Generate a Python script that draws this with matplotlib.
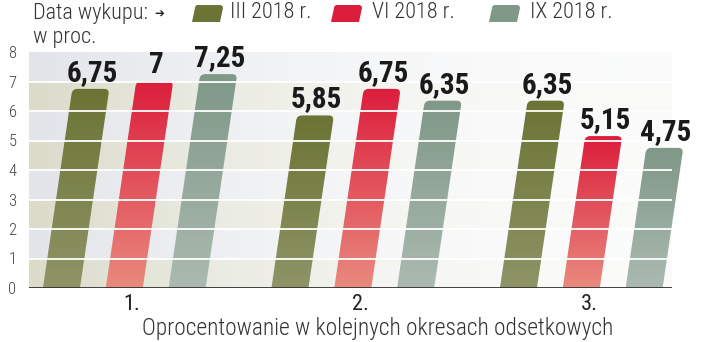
import numpy as np
import matplotlib
matplotlib.use("Agg")
import matplotlib.pyplot as plt
from matplotlib.path import Path
from matplotlib.patches import PathPatch
from matplotlib.transforms import Affine2D
from matplotlib import font_manager as fm

# ---- data ----
groups = ["1.", "2.", "3."]
series = ["III 2018 r.", "VI 2018 r.", "IX 2018 r."]
values_iii = [6.75, 5.85, 6.35]
values_vi = [7.00, 6.75, 5.15]
values_ix = [7.25, 6.35, 4.75]
value_labels_iii = ["6,75", "5,85", "6,35"]
value_labels_vi = ["7", "6,75", "5,15"]
value_labels_ix = ["7,25", "6,35", "4,75"]
yticks = [0, 1, 2, 3, 4, 5, 6, 7, 8]
title_line1 = "Data wykupu:"
title_line2 = "w proc."
xlabel = "Oprocentowanie w kolejnych okresach odsetkowych"

# ---- style ----
top_colors = ["#6b7434", "#dc1e3c", "#7f9888"]
bot_colors = ["#8e9466", "#e98a7e", "#abbab0"]

names = {f.name for f in fm.fontManager.ttflist}
COND = "DejaVu Sans"
for cand in ["Roboto Condensed", "Barlow Condensed", "Barlow Semi Condensed",
             "Asap Condensed", "Archivo Narrow", "Liberation Sans Narrow"]:
    if cand in names:
        COND = cand
        break
plt.rcParams["font.family"] = [COND, "DejaVu Sans"]

W, H = 720, 342
fig = plt.figure(figsize=(W / 100, H / 100), dpi=100)
ax = fig.add_axes([29 / W, 1 - 288 / H, (672 - 29) / W, (288 - 52) / H])
xlim = (-0.451, 2.363)
ax.set_xlim(*xlim)
ax.set_ylim(0, 8)

# background bands with horizontal fade
ncol = 256
t = np.linspace(0, 1, ncol)
f = (0.95 * (1 - (1 - t) ** 2))[None, :, None]
beige = np.array([0.855, 0.859, 0.790])
grey = np.array([0.885, 0.895, 0.915])
white = np.array([0.99, 0.99, 0.99])
rows = []
for k in range(8):
    c = beige if k % 2 == 0 else grey
    rows.append(c[None, None, :] * (1 - f) + white[None, None, :] * f)
bg = np.concatenate(rows, axis=0)
ax.imshow(bg, extent=(xlim[0], xlim[1], 0, 8), origin="lower", aspect="auto",
          interpolation="nearest", zorder=0)

px_x = (xlim[1] - xlim[0]) / (672 - 29)   # data units per pixel (x)
px_y = 8 / (288 - 52)                     # data units per pixel (y)
slant = 4.35 * px_x                       # x shift per unit of value
width = 37 * px_x
offsets = [-0.39, -0.115, 0.16]
rad = 5.0


def bar_path(x0, v):
    rx, ry = rad * px_x, rad * px_y
    verts = [
        (x0, 0),
        (x0 + slant * (v - ry), v - ry),
        (x0 + slant * v, v),
        (x0 + slant * v + rx, v),
        (x0 + width + slant * v - rx, v),
        (x0 + width + slant * v, v),
        (x0 + width + slant * (v - ry), v - ry),
        (x0 + width, 0),
        (x0, 0),
    ]
    codes = [Path.MOVETO, Path.LINETO, Path.CURVE3, Path.CURVE3, Path.LINETO,
             Path.CURVE3, Path.CURVE3, Path.LINETO, Path.CLOSEPOLY]
    return Path(verts, codes)


def grad(c_top, c_bot, n=128):
    a = np.array(matplotlib.colors.to_rgb(c_bot))
    b = np.array(matplotlib.colors.to_rgb(c_top))
    s = np.linspace(0, 1, n)[:, None]
    return (a * (1 - s) + b * s)[:, None, :]


all_vals = [values_iii, values_vi, values_ix]
all_labels = [value_labels_iii, value_labels_vi, value_labels_ix]
for j, (vals, labs) in enumerate(zip(all_vals, all_labels)):
    for i, v in enumerate(vals):
        x0 = i + offsets[j]
        patch = PathPatch(bar_path(x0, v), facecolor="none", edgecolor="none",
                          zorder=2, clip_on=False)
        ax.add_patch(patch)
        im = ax.imshow(grad(top_colors[j], bot_colors[j]),
                       extent=(x0, x0 + width + slant * v, 0, v), origin="lower",
                       aspect="auto", interpolation="bilinear", zorder=2)
        im.set_clip_path(patch)
        im.set_clip_box(fig.bbox)
        ax.annotate(labs[i], xy=(x0 + slant * v + width / 2, v), xytext=(1, 1.5),
                    textcoords="offset points", ha="center", va="bottom",
                    fontsize=21, fontweight="bold", color="#1a1a1a", zorder=6,
                    annotation_clip=False)

# white grid lines over bars
for y in yticks[1:-1]:
    ax.axhline(y, color="white", lw=1.3, zorder=4)
ax.axhline(0, color="#333333", lw=1.3, zorder=5)
ax.set_xlim(*xlim)

for s in ax.spines.values():
    s.set_visible(False)
ax.set_yticks(yticks)
ax.set_yticklabels([str(y) for y in yticks], fontsize=12, color="#444444",
                   fontweight="light")
ax.set_xticks(range(len(groups)))
ax.set_xticklabels(groups, fontsize=16, color="#222222")
ax.tick_params(axis="both", length=0)
ax.tick_params(axis="y", pad=9)
ax.tick_params(axis="x", pad=4)

# titles
fig.text(33 / W, 1 - 13 / H, title_line1, fontsize=16, color="#333333",
         ha="left", va="center", fontweight="light")
fig.text(154 / W, 1 - 13 / H, "➔", fontsize=8.5, color="#222222", ha="left",
         va="center", family=["DejaVu Sans"])
fig.text(33 / W, 1 - 37 / H, title_line2, fontsize=16, color="#333333",
         ha="left", va="center", fontweight="light")
fig.text(378 / W, 1 - 328 / H, xlabel, fontsize=16.8, color="#333333",
         ha="center", va="center", fontweight="light")

# legend swatches
sw_x = [192, 331, 489]
txt_x = [230, 372, 530]
to_fig = Affine2D().scale(1 / W, 1 / H) + fig.transFigure
for j in range(3):
    x = sw_x[j]
    y0, y1 = H - 22, H - 5
    r = 3
    verts = [(x, y0 + 0), (x + 3, y1 - r), (x + 3, y1), (x + 3 + r, y1),
             (x + 31 - r, y1), (x + 31, y1), (x + 31, y1 - r), (x + 28, y0), (x, y0)]
    codes = [Path.MOVETO, Path.LINETO, Path.CURVE3, Path.CURVE3, Path.LINETO,
             Path.CURVE3, Path.CURVE3, Path.LINETO, Path.CLOSEPOLY]
    fig.patches.append(PathPatch(Path(verts, codes), facecolor=top_colors[j],
                                 edgecolor="none", transform=to_fig, figure=fig))
    fig.text(txt_x[j] / W, 1 - 13 / H, series[j], fontsize=16, color="#333333",
             ha="left", va="center", fontweight="light")

fig.savefig("out.png", dpi=100)
